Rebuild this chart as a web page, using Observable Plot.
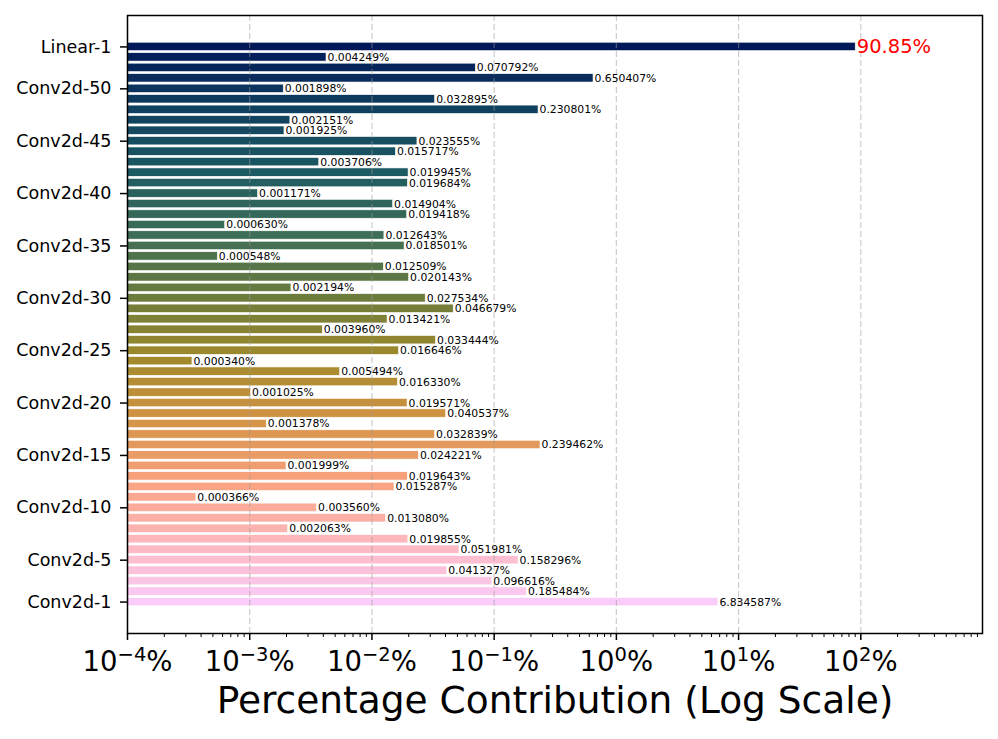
<!DOCTYPE html>
<html>
<head>
<meta charset="utf-8">
<script src="https://cdn.jsdelivr.net/npm/d3@7"></script>
<script src="https://cdn.jsdelivr.net/npm/@observablehq/plot@0.6"></script>
<style>
  html, body { margin: 0; padding: 0; background: white; }
  #chart svg { display: block; }
</style>
</head>
<body>
<div id="chart"></div>
<script>
// ---- data (bottom to top: Conv2d-1 ... Conv2d-53, Linear-1) ----
const convValues = [
  6.834587, 0.185484, 0.096616, 0.041327, 0.158296, 0.051981, 0.019855, 0.002063, 0.013080, 0.003560,
  0.000366, 0.015287, 0.019643, 0.001999, 0.024221, 0.239462, 0.032839, 0.001378, 0.040537, 0.019571,
  0.001025, 0.016330, 0.005494, 0.000340, 0.016646, 0.033444, 0.003960, 0.013421, 0.046679, 0.027534,
  0.002194, 0.020143, 0.012509, 0.000548, 0.018501, 0.012643, 0.000630, 0.019418, 0.014904, 0.001171,
  0.019684, 0.019945, 0.003706, 0.015717, 0.023555, 0.001925, 0.002151, 0.230801, 0.032895, 0.001898,
  0.650407, 0.070792, 0.004249
];
const linearValue = 90.85;
const layerNames = convValues.map((_, i) => `Conv2d-${i + 1}`).concat(["Linear-1"]);
const layerValues = convValues.concat([linearValue]);
const yTickLabels = ["Linear-1", "Conv2d-50", "Conv2d-45", "Conv2d-40", "Conv2d-35", "Conv2d-30",
  "Conv2d-25", "Conv2d-20", "Conv2d-15", "Conv2d-10", "Conv2d-5", "Conv2d-1"];
const xMajorTicks = [1e-4, 1e-3, 1e-2, 1e-1, 1e0, 1e1, 1e2];
const xDomain = [1e-4, 990];
const xLabel = "Percentage Contribution (Log Scale)";
// batlow colour map, dark -> light
const palette = ["#011959", "#103F60", "#1C5A62", "#3C6D56", "#687B3E", "#9D892B", "#D29343", "#F8A17B", "#FDB7BC", "#FACCFA"];

// ---- derived table ----
const n = layerNames.length;
const cmap = d3.piecewise(d3.interpolateRgb, palette);
const rows = layerNames.map((name, i) => ({
  name,
  value: layerValues[i],
  color: cmap((n - 1 - i) / (n - 1)),
  label: name === "Linear-1" ? `${layerValues[i].toFixed(2)}%` : `${layerValues[i].toFixed(6)}%`
}));
const topRow = rows.filter(d => d.name === "Linear-1");
const otherRows = rows.filter(d => d.name !== "Linear-1");
const xMinorTicks = [];
for (let e = -4; e <= 2; e++) for (let k = 2; k <= 9; k++) {
  const v = k * Math.pow(10, e);
  if (v < xDomain[1]) xMinorTicks.push(v);
}

const chart = Plot.plot({
  width: 998,
  height: 739,
  marginTop: 15,
  marginBottom: 106,
  marginLeft: 127,
  marginRight: 16,
  style: { fontFamily: "DejaVu Sans", background: "white", color: "black" },
  x: { type: "log", domain: xDomain },
  y: { type: "band", domain: layerNames.slice().reverse(), paddingInner: 0.2, paddingOuter: 2.6, round: false },
  marks: [
    Plot.barX(rows, {
      x1: () => xDomain[0], x2: "value", y: "name",
      fill: "color", stroke: "white", strokeWidth: 0.6
    }),
    Plot.ruleX(xMajorTicks, { stroke: "#9a9a9a", strokeOpacity: 0.5, strokeWidth: 1.2, strokeDasharray: "6,3" }),
    Plot.text(otherRows, { x: "value", y: "name", text: "label", textAnchor: "start", dx: 1, fontSize: 10.8, fill: "black" }),
    Plot.text(topRow, { x: "value", y: "name", text: "label", textAnchor: "start", dx: 1, fontSize: 19.5, fill: "red" }),
    Plot.frame({ stroke: "black", strokeWidth: 1.5 }),
    Plot.axisY({ ticks: yTickLabels, tickSize: 7, tickPadding: 9, fontSize: 17.5, strokeWidth: 1.5, label: null }),
    Plot.axisX({ ticks: xMinorTicks, tickSize: 4, tickFormat: () => "", strokeWidth: 1, label: null }),
    Plot.axisX({
      ticks: xMajorTicks, tickSize: 7, tickPadding: 11, fontSize: 27.5, strokeWidth: 1.5, label: null,
      tickFormat: d => "e" + String(Math.round(Math.log10(d)))
    }),
    Plot.text([xLabel], { frameAnchor: "bottom", dy: 79, fontSize: 37.5, fill: "black" })
  ]
});

document.getElementById("chart").appendChild(chart);

// render x tick labels as 10^e %
d3.select(chart).selectAll('g[aria-label="x-axis tick label"] text').each(function () {
  const s = this.textContent;
  if (!s || s[0] !== "e") return;
  const e = +s.slice(1);
  const t = d3.select(this);
  t.text(null);
  t.append("tspan").text("10");
  t.append("tspan").attr("font-size", "19.5px").attr("dy", "-10.5px").text(e < 0 ? `\u2212${-e}` : `${e}`);
  t.append("tspan").attr("font-size", "27.5px").attr("dy", "10.5px").text("%");
});
</script>
</body>
</html>
